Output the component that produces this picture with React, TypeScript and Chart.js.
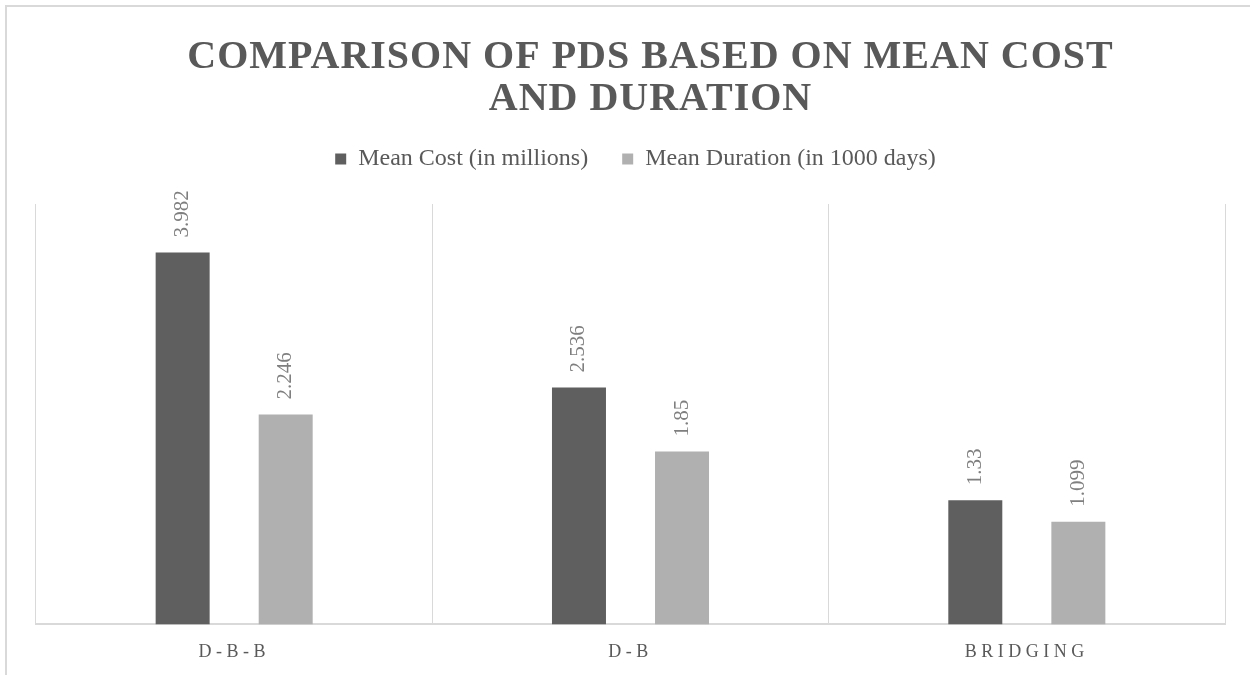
import React, { useEffect, useRef } from "react";
import { Chart, registerables } from "chart.js";

Chart.register(...registerables);

const categories = ["D-B-B", "D-B", "BRIDGING"];
const seriesNames = ["Mean Cost (in millions)", "Mean Duration (in 1000 days)"];
const meanCost = [3.982, 2.536, 1.33];
const meanDuration = [2.246, 1.85, 1.099];
const titleLines = ["COMPARISON OF PDS BASED ON MEAN COST", "AND DURATION"];
const yMax = 4.5;

const FONT = "'Liberation Serif', 'Times New Roman', serif";

const tweaks = {
  id: "tweaks",
  beforeLayout(chart: any) {
    const lg = chart.legend;
    if (lg && !lg._patched) {
      const f = lg.fit.bind(lg);
      lg.fit = function () {
        f();
        this.height += 11;
      };
      const d = lg.draw.bind(lg);
      lg.draw = function () {
        const ctx = this.ctx;
        ctx.save();
        ctx.translate(5, -12);
        d();
        ctx.restore();
      };
      lg._patched = true;
    }
  },
  beforeDraw(chart: any) {
    const s = chart.scales.x;
    if (s && !s._patched) {
      const orig = s.drawLabels.bind(s);
      s.drawLabels = function (area: any) {
        const ctx = this.ctx;
        ctx.save();
        ctx.letterSpacing = "4.5px";
        orig(area);
        ctx.restore();
      };
      s._patched = true;
    }
    const t = chart.titleBlock;
    if (t && !t._patched) {
      const o = t.draw.bind(t);
      t.draw = function () {
        const ctx = this.ctx;
        ctx.save();
        ctx.translate(20, 0);
        ctx.letterSpacing = "1px";
        o();
        ctx.restore();
      };
      t._patched = true;
    }
  },
  afterDatasetsDraw(chart: any) {
    const ctx = chart.ctx;
    ctx.save();
    ctx.font = `21px ${FONT}`;
    ctx.fillStyle = "#7f7f7f";
    ctx.textAlign = "left";
    ctx.textBaseline = "middle";
    chart.data.datasets.forEach((ds: any, di: number) => {
      const meta = chart.getDatasetMeta(di);
      meta.data.forEach((bar: any, i: number) => {
        ctx.save();
        ctx.translate(bar.x, bar.y - 15);
        ctx.rotate(-Math.PI / 2);
        ctx.fillText(String(ds.data[i]), 0, 0);
        ctx.restore();
      });
    });
    ctx.restore();
  },
};

export default function App() {
  const ref = useRef<HTMLCanvasElement | null>(null);
  useEffect(() => {
    if (!ref.current) return;
    const chart = new Chart(ref.current, {
      type: "bar",
      data: {
        labels: categories,
        datasets: [
          {
            label: seriesNames[0],
            data: meanCost,
            backgroundColor: "#5f5f5f",
            categoryPercentage: 0.52,
            barPercentage: 0.524,
          },
          {
            label: seriesNames[1],
            data: meanDuration,
            backgroundColor: "#b0b0b0",
            categoryPercentage: 0.52,
            barPercentage: 0.524,
          },
        ],
      },
      options: {
        responsive: false,
        animation: false,
        layout: { padding: { left: 36, right: 25, top: 0, bottom: -5 } },
        plugins: {
          title: {
            display: true,
            text: titleLines,
            color: "#595959",
            font: { family: FONT, size: 40, weight: "bold", lineHeight: 1.05 },
            padding: { top: 37, bottom: 4 },
          },
          legend: {
            display: true,
            position: "top",
            labels: {
              color: "#595959",
              font: { family: FONT, size: 24 },
              boxWidth: 11,
              boxHeight: 11,
              padding: 34,
            },
          },
          tooltip: { enabled: false },
        },
        scales: {
          x: {
            grid: { display: true, color: "#d9d9d9", lineWidth: 1, drawTicks: false, offset: true },
            border: { display: true, color: "#d9d9d9", width: 2 },
            ticks: {
              color: "#595959",
              font: { family: FONT, size: 18 },
              padding: 17,
            },
          },
          y: {
            display: false,
            min: 0,
            max: yMax,
          },
        },
      },
      plugins: [tweaks],
    });
    return () => chart.destroy();
  }, []);
  return (
    <div style={{ position: "fixed", left: 0, top: 0, width: 1250, height: 675, background: "#fff" }}>
      <div
        style={{
          position: "absolute",
          left: 5,
          top: 5,
          width: 1300,
          height: 700,
          borderTop: "2px solid #d9d9d9",
          borderLeft: "2px solid #d9d9d9",
        }}
      />
      <canvas ref={ref} width={1250} height={675} style={{ position: "absolute", left: 0, top: 0 }} />
    </div>
  );
}
